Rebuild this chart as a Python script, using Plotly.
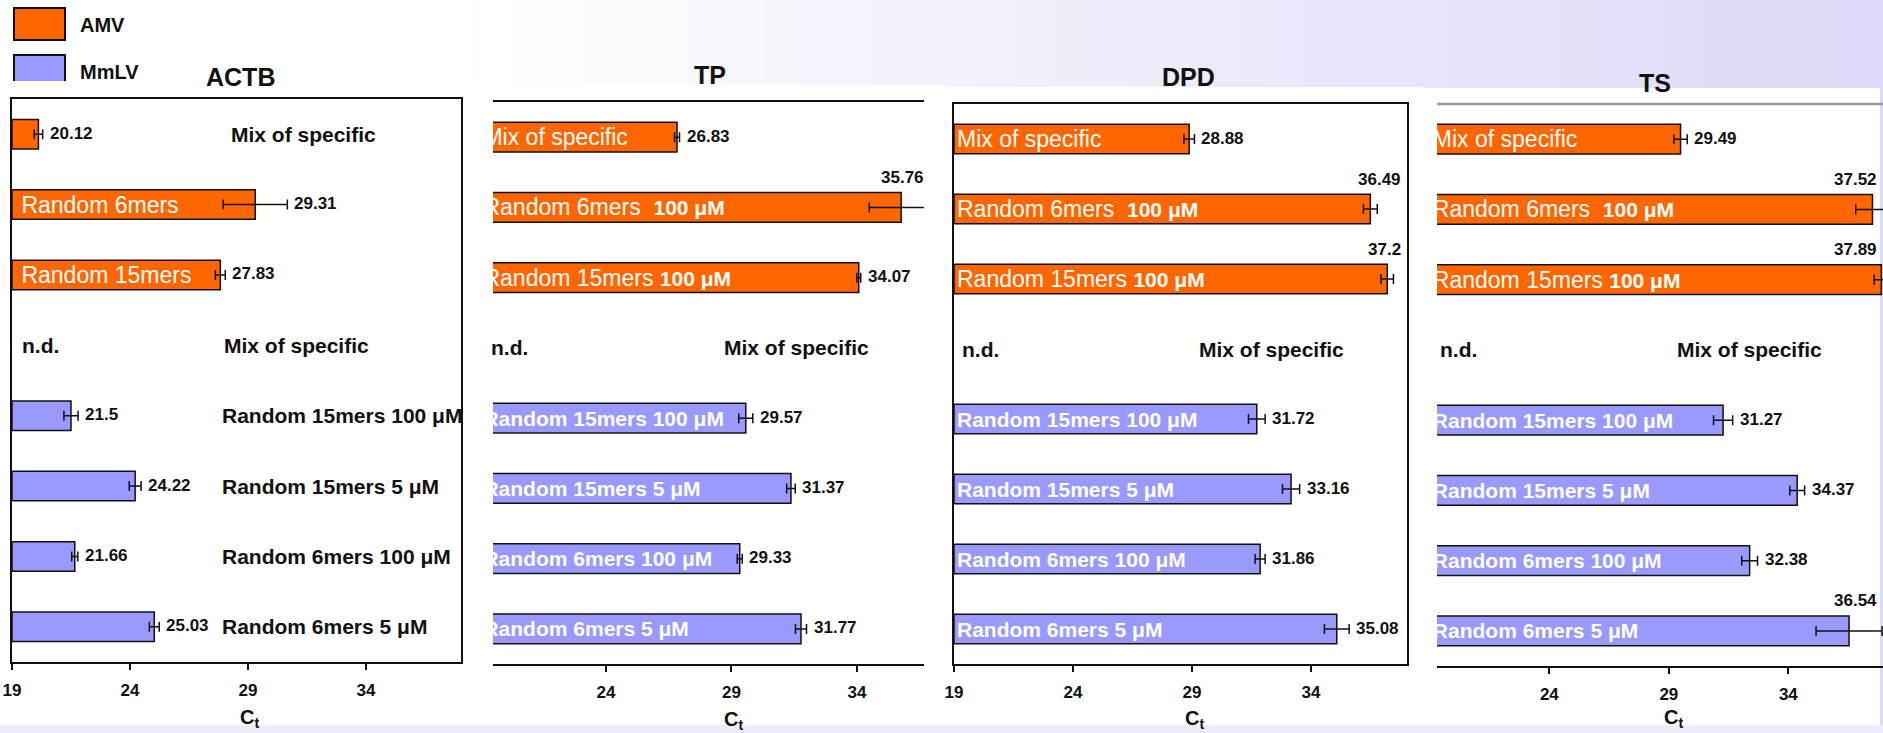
import plotly.graph_objects as go

W, H = 1883, 733
FONT = "Arial, 'Liberation Sans', sans-serif"
AMV_COLOR = "#ff6600"
MMLV_COLOR = "#9999ff"
INK = "#111111"

# ---- data -------------------------------------------------------------
slots = [
    "AMV|Mix of specific", "AMV|Random 6mers", "AMV|Random 15mers",
    "MmLV|Mix of specific", "MmLV|Random 15mers 100 µM", "MmLV|Random 15mers 5 µM",
    "MmLV|Random 6mers 100 µM", "MmLV|Random 6mers 5 µM",
]
amv_slots = slots[:3]
mmlv_slots = slots[3:]

genes = ["ACTB", "TP", "DPD", "TS"]

actb_amv = [20.12, 29.31, 27.83]
actb_amv_sd = [0.18, 1.36, 0.21]
actb_mmlv = [None, 21.5, 24.22, 21.66, 25.03]
actb_mmlv_sd = [None, 0.30, 0.25, 0.13, 0.21]

tp_amv = [26.83, 35.76, 34.07]
tp_amv_sd = [0.10, 1.27, 0.08]
tp_mmlv = [None, 29.57, 31.37, 29.33, 31.77]
tp_mmlv_sd = [None, 0.28, 0.17, 0.10, 0.22]

dpd_amv = [28.88, 36.49, 37.2]
dpd_amv_sd = [0.22, 0.29, 0.26]
dpd_mmlv = [None, 31.72, 33.16, 31.86, 35.08]
dpd_mmlv_sd = [None, 0.35, 0.36, 0.21, 0.52]

ts_amv = [29.49, 37.52, 37.89]
ts_amv_sd = [0.28, 0.70, 0.30]
ts_mmlv = [None, 31.27, 34.37, 32.38, 36.54]
ts_mmlv_sd = [None, 0.40, 0.31, 0.33, 1.38]

ct_min = 19
tick_vals = [19, 24, 29, 34]

amv_names = ["Mix of specific", "Random 6mers", "Random 15mers"]
mmlv_names = ["Mix of specific", "Random 15mers 100 μM", "Random 15mers 5 μM",
              "Random 6mers 100 μM", "Random 6mers 5 μM"]
conc_label = "100 μM"

values = {
    "ACTB": (actb_amv, actb_amv_sd, actb_mmlv, actb_mmlv_sd),
    "TP": (tp_amv, tp_amv_sd, tp_mmlv, tp_mmlv_sd),
    "DPD": (dpd_amv, dpd_amv_sd, dpd_mmlv, dpd_mmlv_sd),
    "TS": (ts_amv, ts_amv_sd, ts_mmlv, ts_mmlv_sd),
}

# ---- panel geometry (pixels) ------------------------------------------
frames = {
    "ACTB": dict(x0=12, x1=461, y0=99, y1=662, rng=[19, 38.03], box="full",
                 title=(240, 77), ct=(249, 718), mix_x=0.468, edge=-4, nd=8,
                 white=(0, 472, 81)),
    "TP": dict(x0=493, x1=924, y0=102, y1=664, rng=[19.5, 36.67], box="topbottom",
               title=(710, 75), ct=(733, 720), mix_x=0.531, edge=2, nd=-4,
               white=(472, 945, 85)),
    "DPD": dict(x0=954, x1=1407, y0=104, y1=664, rng=[19, 38.03], box="full",
                title=(1188, 77), ct=(1194, 719), mix_x=0.536, edge=-4, nd=6,
                white=(945, 1422, 87)),
    "TS": dict(x0=1437, x1=1883, y0=104, y1=666, rng=[19.3, 37.96], box="bottom",
               title=(1655, 83), ct=(1673, 718), mix_x=0.534, edge=-4, nd=1,
               white=(1422, 1880, 88)),
}


def fx(p):
    return p / W


def fy(p):
    return 1 - p / H


fig = go.Figure()
shapes = []
annotations = []

# slide background: soft lavender gradient towards the right
n_steps = 40
g0, g1 = 440, W
for k in range(n_steps):
    t = (k + 0.5) / n_steps
    r = round(255 - t * 37)
    g = round(255 - t * 37)
    b = round(255 - t * 7)
    xa0 = g0 + (g1 - g0) * k / n_steps
    xa1 = g0 + (g1 - g0) * (k + 1) / n_steps + 1
    shapes.append(dict(type="rect", xref="paper", yref="paper", x0=fx(xa0), x1=fx(xa1),
                       y0=0, y1=1, fillcolor=f"rgb({r},{g},{b})", line_width=0, layer="below"))
shapes.append(dict(type="rect", xref="paper", yref="paper", x0=0, x1=1, y0=0, y1=fy(725),
                   fillcolor="#ececfb", line_width=0, layer="below"))

# legend swatches (the MmLV one tucks under the first panel)
shapes.append(dict(type="rect", xref="paper", yref="paper", x0=fx(14), x1=fx(65), y0=fy(40), y1=fy(8),
                   fillcolor=AMV_COLOR, line=dict(color=INK, width=2), layer="below"))
shapes.append(dict(type="rect", xref="paper", yref="paper", x0=fx(14), x1=fx(65), y0=fy(90), y1=fy(55),
                   fillcolor=MMLV_COLOR, line=dict(color=INK, width=2), layer="below"))

# white panels
for gname in genes:
    wx0, wx1, wy0 = frames[gname]["white"]
    shapes.append(dict(type="rect", xref="paper", yref="paper", x0=fx(wx0), x1=fx(wx1),
                       y0=fy(725), y1=fy(wy0), fillcolor="white", line_width=0, layer="below"))

annotations.append(dict(x=fx(78), y=fy(25), xref="paper", yref="paper", xanchor="left", yanchor="middle",
                        text="<b>AMV</b>", showarrow=False, font=dict(family=FONT, size=20, color=INK)))
annotations.append(dict(x=fx(78), y=fy(72), xref="paper", yref="paper", xanchor="left", yanchor="middle",
                        text="<b>MmLV</b>", showarrow=False, font=dict(family=FONT, size=20, color=INK)))

label_font = dict(family=FONT, size=17, color=INK)
black_font = dict(family=FONT, size=21, color=INK)

for i, gname in enumerate(genes):
    fr = frames[gname]
    amv, amv_sd, mmlv, mmlv_sd = values[gname]
    suffix = "" if i == 0 else str(i + 1)
    xa, ya = "x" + suffix, "y" + suffix

    full_labels = gname != "ACTB"
    if full_labels:
        amv_text = [
            amv_names[0],
            amv_names[1] + "\u00a0\u00a0<span style='font-size:21px'><b>" + conc_label + "</b></span>",
            amv_names[2] + "\u00a0<span style='font-size:21px'><b>" + conc_label + "</b></span>",
        ]
        mmlv_text = [None] + ["<b>" + n + "</b>" for n in mmlv_names[1:]]
    else:
        amv_text = [None, "\u00a0" + amv_names[1], "\u00a0" + amv_names[2]]
        mmlv_text = None

    common = dict(orientation="h", base=ct_min, width=0.42, xaxis=xa, yaxis=ya, showlegend=False,
                  hoverinfo="skip", textposition="inside", insidetextanchor="start",
                  constraintext="none", textangle=0, cliponaxis=True)

    fig.add_trace(go.Bar(
        y=amv_slots, x=[None if v is None else v - ct_min for v in amv], name="AMV",
        marker=dict(color=AMV_COLOR, line=dict(color=INK, width=1.5)),
        error_x=dict(type="data", array=amv_sd, color=INK, thickness=1.5, width=5),
        text=amv_text, insidetextfont=dict(family=FONT, size=23, color="white"), **common))
    fig.add_trace(go.Bar(
        y=mmlv_slots, x=[None if v is None else v - ct_min for v in mmlv], name="MmLV",
        marker=dict(color=MMLV_COLOR, line=dict(color=INK, width=1.5)),
        error_x=dict(type="data", array=[0 if s is None else s for s in mmlv_sd],
                     color=INK, thickness=1.5, width=5),
        text=mmlv_text, insidetextfont=dict(family=FONT, size=21, color="white"), **common))

    # value labels
    for slot, v, sd in list(zip(amv_slots, amv, amv_sd)) + list(zip(mmlv_slots, mmlv, mmlv_sd)):
        if v is None:
            continue
        if v >= 35.5:
            annotations.append(dict(x=1, xref=xa + " domain", y=slot, yref=ya, xanchor="right",
                                    yanchor="middle", xshift=fr["edge"], yshift=30, showarrow=False,
                                    text="<b>" + str(v) + "</b>", font=label_font))
        else:
            annotations.append(dict(x=v + sd, xref=xa, y=slot, yref=ya, xanchor="left",
                                    yanchor="middle", xshift=5, yshift=1, showarrow=False,
                                    text="<b>" + str(v) + "</b>", font=label_font))

    # n.d. and outside category labels
    annotations.append(dict(x=0, xref=xa + " domain", y=mmlv_slots[0], yref=ya, xanchor="left",
                            yanchor="middle", xshift=fr["nd"], showarrow=False, text="<b>n.d.</b>",
                            font=black_font))
    annotations.append(dict(x=fr["mix_x"], xref=xa + " domain", y=mmlv_slots[0], yref=ya,
                            xanchor="left", yanchor="middle", showarrow=False,
                            text="<b>" + mmlv_names[0] + "</b>", font=black_font))
    if not full_labels:
        annotations.append(dict(x=0.483, xref=xa + " domain", y=amv_slots[0], yref=ya,
                                xanchor="left", yanchor="middle", showarrow=False,
                                text="<b>" + amv_names[0] + "</b>", font=black_font))
        for slot, n in zip(mmlv_slots[1:], mmlv_names[1:]):
            annotations.append(dict(x=0.463, xref=xa + " domain", y=slot, yref=ya,
                                    xanchor="left", yanchor="middle", showarrow=False,
                                    text="<b>" + n + "</b>", font=black_font))

    # titles
    tx, ty = fr["title"]
    annotations.append(dict(x=fx(tx), y=fy(ty), xref="paper", yref="paper", xanchor="center",
                            yanchor="middle", showarrow=False, text="<b>" + gname + "</b>",
                            font=dict(family=FONT, size=25, color=INK)))
    cx, cy = fr["ct"]
    annotations.append(dict(x=fx(cx), y=fy(cy), xref="paper", yref="paper", xanchor="center",
                            yanchor="middle", showarrow=False, text="<b>C<sub>t</sub></b>",
                            font=dict(family=FONT, size=20, color=INK)))

    box = fr["box"]
    fig.layout["xaxis" + suffix] = dict(
        domain=[fx(fr["x0"]), fx(fr["x1"])], range=fr["rng"], anchor=ya, automargin=False,
        tickvals=tick_vals, ticktext=["<b>" + str(t) + "</b>" for t in tick_vals],
        tickfont=dict(family=FONT, size=17, color=INK), ticks="outside", ticklen=6, tickwidth=2,
        tickcolor=INK, ticklabelstandoff=6, showline=True, linewidth=2, linecolor=INK,
        mirror=(box in ("full", "topbottom")), showgrid=False, zeroline=False, fixedrange=True)
    fig.layout["yaxis" + suffix] = dict(
        domain=[fy(fr["y1"]), fy(fr["y0"])], anchor=xa, type="category", automargin=False,
        categoryorder="array", categoryarray=slots, range=[7.5, -0.5],
        showticklabels=False, ticks="", showline=(box == "full"), linewidth=2, linecolor=INK,
        mirror=(box == "full"), showgrid=False, zeroline=False, fixedrange=True)

# grey upper rule of the TS panel
fr = frames["TS"]
shapes.append(dict(type="line", xref="paper", yref="paper", x0=fx(fr["x0"]), x1=fx(fr["x1"]),
                   y0=fy(fr["y0"]), y1=fy(fr["y0"]), line=dict(color="#999999", width=2.5)))

fig.update_layout(
    width=W, height=H, margin=dict(l=0, r=0, t=0, b=0, autoexpand=False),
    paper_bgcolor="white", plot_bgcolor="rgba(0,0,0,0)",
    barmode="overlay", shapes=shapes, annotations=annotations,
    font=dict(family=FONT, color=INK),
)

fig.write_html("out.html")
